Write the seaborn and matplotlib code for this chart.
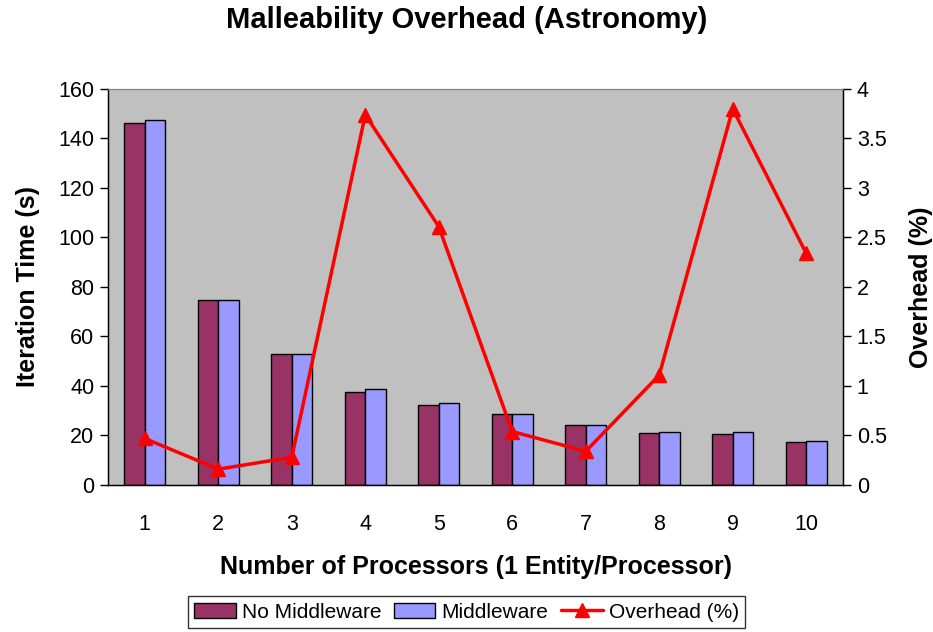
import numpy as np
import pandas as pd
import matplotlib
matplotlib.use("Agg")
import matplotlib.pyplot as plt
from matplotlib.patches import Patch
from matplotlib.lines import Line2D
import seaborn as sns

processors = ["1", "2", "3", "4", "5", "6", "7", "8", "9", "10"]
no_middleware = [146.4, 74.7, 52.8, 37.7, 32.2, 28.7, 24.4, 20.9, 20.5, 17.5]
middleware = [147.3, 74.7, 52.8, 38.9, 33.0, 28.8, 24.4, 21.4, 21.4, 17.9]
overhead = [0.47, 0.16, 0.28, 3.74, 2.61, 0.54, 0.34, 1.11, 3.80, 2.34]

series_names = ["No Middleware", "Middleware"]
colors = ["#993366", "#9999FF"]

df = pd.DataFrame({
    "Processors": processors * 2,
    "Time": no_middleware + middleware,
    "Series": [series_names[0]] * len(processors) + [series_names[1]] * len(processors),
})

sns.set_style("white")
plt.rcParams["font.family"] = ["Liberation Sans", "DejaVu Sans"]
plt.rcParams["text.color"] = "black"
plt.rcParams["axes.labelcolor"] = "black"
plt.rcParams["xtick.color"] = "black"
plt.rcParams["ytick.color"] = "black"

fig = plt.figure(figsize=(9.33, 6.32), dpi=100)
ax = fig.add_axes([0.1158, 0.2326, 0.7877, 0.6266])
ax.set_facecolor("#C0C0C0")

sns.barplot(data=df, x="Processors", y="Time", hue="Series", order=processors,
            hue_order=series_names, palette=colors, width=0.56,
            edgecolor="black", linewidth=1.0, saturation=1, ax=ax, legend=False)

ax.set_xlim(-0.5, len(processors) - 0.5)
ax.set_ylim(0, 160)
ax.set_yticks(np.arange(0, 161, 20))
ax.set_xticks(np.arange(-0.5, len(processors), 1.0), minor=True)
ax.tick_params(axis="x", which="major", length=0, pad=21, labelsize=15.5)
ax.tick_params(axis="x", which="minor", length=6, width=1, color="black", direction="out")
ax.tick_params(axis="y", length=6, width=1, color="black", direction="out", labelsize=15.5, pad=4)
ax.set_xlabel("Number of Processors (1 Entity/Processor)", fontsize=18, fontweight="bold", labelpad=14)
ax.set_ylabel("Iteration Time (s)", fontsize=18, fontweight="bold", labelpad=13)
for side in ["left", "bottom", "right"]:
    ax.spines[side].set_color("black")
    ax.spines[side].set_linewidth(1)
ax.spines["top"].set_color("#808080")

ax2 = ax.twinx()
ax2.plot(np.arange(len(processors)), overhead, color="#FF0000", linewidth=2.5,
         marker="^", markersize=10)
ax2.set_ylim(0, 4)
ax2.set_yticks(np.arange(0, 4.01, 0.5))
ax2.set_yticklabels(["0", "0.5", "1", "1.5", "2", "2.5", "3", "3.5", "4"])
ax2.tick_params(axis="y", length=6, width=1, color="black", direction="out", labelsize=15.5, pad=4)
ax2.set_ylabel("Overhead (%)", fontsize=18, fontweight="bold", labelpad=16)
for side in ["left", "bottom", "right"]:
    ax2.spines[side].set_color("black")
ax2.spines["top"].set_color("#808080")

fig.suptitle("Malleability Overhead (Astronomy)", fontsize=21, fontweight="bold",
             y=0.968, va="center")

handles = [
    Patch(facecolor=colors[0], edgecolor="black", label=series_names[0]),
    Patch(facecolor=colors[1], edgecolor="black", label=series_names[1]),
    Line2D([0], [0], color="#FF0000", linewidth=2.5, marker="^", markersize=10, label="Overhead (%)"),
]
leg = fig.legend(handles=handles, loc="lower center", bbox_to_anchor=(0.5, -0.01), ncol=3,
                 fontsize=15, frameon=True, fancybox=False, handlelength=2.0,
                 handletextpad=0.3, columnspacing=0.6, borderpad=0.3)
leg.get_frame().set_edgecolor("black")
leg.get_frame().set_linewidth(1)

fig.savefig("out.png", dpi=100, facecolor="white")
